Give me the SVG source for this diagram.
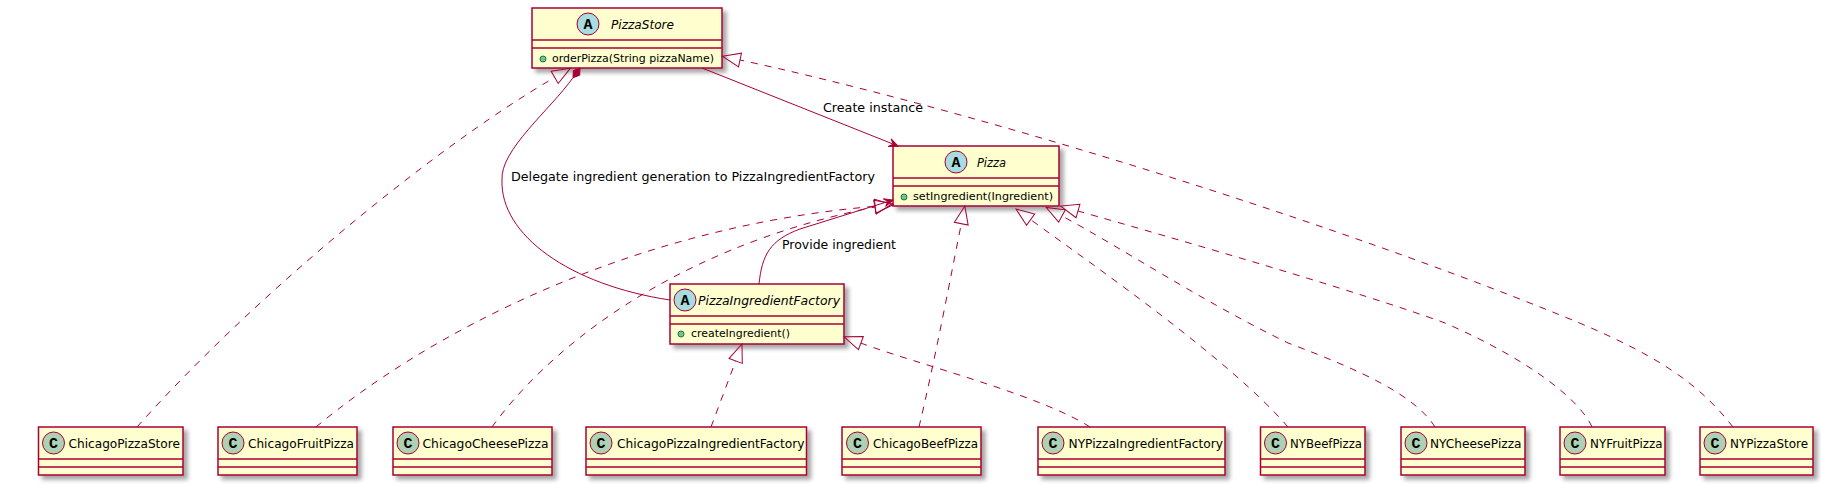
<svg xmlns="http://www.w3.org/2000/svg" width="1821" height="485" viewBox="0 0 1821 485">
<defs>
<filter id="sh" x="-10%" y="-10%" width="130%" height="160%">
<feGaussianBlur in="SourceAlpha" stdDeviation="2"/>
<feOffset dx="4" dy="4" result="o"/>
<feComponentTransfer><feFuncA type="linear" slope="0.35"/></feComponentTransfer>
<feMerge><feMergeNode/><feMergeNode in="SourceGraphic"/></feMerge>
</filter>
<marker id="ext" markerUnits="userSpaceOnUse" viewBox="-2 -9 22 18" refX="0" refY="0" markerWidth="22" markerHeight="18" orient="auto" overflow="visible">
<path d="M0,-7 L18,0 L0,7 Z" fill="none" stroke="#A80036" stroke-width="1"/>
</marker>
<marker id="arr" markerUnits="userSpaceOnUse" viewBox="-11 -6 12 12" refX="0" refY="0" markerWidth="12" markerHeight="12" orient="auto" overflow="visible">
<path d="M-9,-4 L0,0 L-9,4 L-5,0 Z" fill="#A80036" stroke="#A80036" stroke-width="1"/>
</marker>
<style>
.box{fill:#FEFECE;stroke:#A80036;stroke-width:1.5;filter:url(#sh)}
.dv{stroke:#A80036;stroke-width:1.5}
.ia{fill:#A9DCDF;stroke:#A80036;stroke-width:1}
.ic{fill:#ADD1B2;stroke:#A80036;stroke-width:1}
.il{font-family:"Liberation Mono","DejaVu Sans Mono",monospace;font-weight:bold;font-size:15px;text-anchor:middle;fill:#000}
.nm{font-family:"DejaVu Sans",sans-serif;font-size:13px;fill:#000}
.ab{font-style:italic}
.mb{font-family:"DejaVu Sans",sans-serif;font-size:11px;fill:#000}
.pub{fill:#84BE84;stroke:#038048;stroke-width:1}
.lb{font-family:"DejaVu Sans",sans-serif;font-size:13px;fill:#000}
.dash{fill:none;stroke:#A80036;stroke-width:1;stroke-dasharray:7,7}
.sol{fill:none;stroke:#A80036;stroke-width:1}
</style>
</defs>

<g id="PizzaStore">
<rect class="box" x="532" y="8" width="190" height="60"/>
<line class="dv" x1="532" y1="40" x2="722" y2="40"/>
<line class="dv" x1="532" y1="48" x2="722" y2="48"/>
<circle class="ia" cx="588" cy="24" r="11"/>
<text class="il" x="588" y="29">A</text>
<text class="nm ab" x="611" y="28.5" textLength="63" lengthAdjust="spacingAndGlyphs">PizzaStore</text>
<circle class="pub" cx="543" cy="59" r="3"/>
<text class="mb" x="552" y="62" textLength="162" lengthAdjust="spacingAndGlyphs">orderPizza(String pizzaName)</text>
</g>

<g id="Pizza">
<rect class="box" x="893" y="146" width="166" height="60"/>
<line class="dv" x1="893" y1="178" x2="1059" y2="178"/>
<line class="dv" x1="893" y1="186" x2="1059" y2="186"/>
<circle class="ia" cx="956" cy="162" r="11"/>
<text class="il" x="956" y="167">A</text>
<text class="nm ab" x="977" y="166.5" textLength="29" lengthAdjust="spacingAndGlyphs">Pizza</text>
<circle class="pub" cx="904" cy="197" r="3"/>
<text class="mb" x="913" y="200" textLength="140" lengthAdjust="spacingAndGlyphs">setIngredient(Ingredient)</text>
</g>

<g id="PizzaIngredientFactory">
<rect class="box" x="670" y="284" width="174" height="60"/>
<line class="dv" x1="670" y1="316" x2="844" y2="316"/>
<line class="dv" x1="670" y1="324" x2="844" y2="324"/>
<circle class="ia" cx="685" cy="300" r="11"/>
<text class="il" x="685" y="305">A</text>
<text class="nm ab" x="698" y="304.5" textLength="142" lengthAdjust="spacingAndGlyphs">PizzaIngredientFactory</text>
<circle class="pub" cx="681" cy="334" r="3"/>
<text class="mb" x="691" y="337" textLength="99" lengthAdjust="spacingAndGlyphs">createIngredient()</text>
</g>

<g id="ChicagoPizzaStore">
<rect class="box" x="38.5" y="427" width="144.5" height="48"/>
<line class="dv" x1="38.5" y1="459" x2="183" y2="459"/>
<line class="dv" x1="38.5" y1="467" x2="183" y2="467"/>
<circle class="ic" cx="53.5" cy="443" r="11"/>
<text class="il" x="53.5" y="448">C</text>
<text class="nm" x="68.5" y="448" textLength="111.5" lengthAdjust="spacingAndGlyphs">ChicagoPizzaStore</text>
</g>

<g id="ChicagoFruitPizza">
<rect class="box" x="218" y="427" width="139" height="48"/>
<line class="dv" x1="218" y1="459" x2="357" y2="459"/>
<line class="dv" x1="218" y1="467" x2="357" y2="467"/>
<circle class="ic" cx="233" cy="443" r="11"/>
<text class="il" x="233" y="448">C</text>
<text class="nm" x="248" y="448" textLength="106" lengthAdjust="spacingAndGlyphs">ChicagoFruitPizza</text>
</g>

<g id="ChicagoCheesePizza">
<rect class="box" x="393" y="427" width="159" height="48"/>
<line class="dv" x1="393" y1="459" x2="552" y2="459"/>
<line class="dv" x1="393" y1="467" x2="552" y2="467"/>
<circle class="ic" cx="408" cy="443" r="11"/>
<text class="il" x="408" y="448">C</text>
<text class="nm" x="422.5" y="448" textLength="126" lengthAdjust="spacingAndGlyphs">ChicagoCheesePizza</text>
</g>

<g id="ChicagoPizzaIngredientFactory">
<rect class="box" x="586" y="427" width="220.5" height="48"/>
<line class="dv" x1="586" y1="459" x2="806.5" y2="459"/>
<line class="dv" x1="586" y1="467" x2="806.5" y2="467"/>
<circle class="ic" cx="601" cy="443" r="11"/>
<text class="il" x="601" y="448">C</text>
<text class="nm" x="617" y="448" textLength="187.5" lengthAdjust="spacingAndGlyphs">ChicagoPizzaIngredientFactory</text>
</g>

<g id="ChicagoBeefPizza">
<rect class="box" x="842" y="427" width="139" height="48"/>
<line class="dv" x1="842" y1="459" x2="981" y2="459"/>
<line class="dv" x1="842" y1="467" x2="981" y2="467"/>
<circle class="ic" cx="857.5" cy="443" r="11"/>
<text class="il" x="857.5" y="448">C</text>
<text class="nm" x="873" y="448" textLength="105" lengthAdjust="spacingAndGlyphs">ChicagoBeefPizza</text>
</g>

<g id="NYPizzaIngredientFactory">
<rect class="box" x="1038" y="427" width="187" height="48"/>
<line class="dv" x1="1038" y1="459" x2="1225" y2="459"/>
<line class="dv" x1="1038" y1="467" x2="1225" y2="467"/>
<circle class="ic" cx="1053" cy="443" r="11"/>
<text class="il" x="1053" y="448">C</text>
<text class="nm" x="1068.5" y="448" textLength="154.5" lengthAdjust="spacingAndGlyphs">NYPizzaIngredientFactory</text>
</g>

<g id="NYBeefPizza">
<rect class="box" x="1260.5" y="427" width="104.5" height="48"/>
<line class="dv" x1="1260.5" y1="459" x2="1365" y2="459"/>
<line class="dv" x1="1260.5" y1="467" x2="1365" y2="467"/>
<circle class="ic" cx="1275.5" cy="443" r="11"/>
<text class="il" x="1275.5" y="448">C</text>
<text class="nm" x="1290" y="448" textLength="72" lengthAdjust="spacingAndGlyphs">NYBeefPizza</text>
</g>

<g id="NYCheesePizza">
<rect class="box" x="1401" y="427" width="124" height="48"/>
<line class="dv" x1="1401" y1="459" x2="1525" y2="459"/>
<line class="dv" x1="1401" y1="467" x2="1525" y2="467"/>
<circle class="ic" cx="1416" cy="443" r="11"/>
<text class="il" x="1416" y="448">C</text>
<text class="nm" x="1430" y="448" textLength="91.5" lengthAdjust="spacingAndGlyphs">NYCheesePizza</text>
</g>

<g id="NYFruitPizza">
<rect class="box" x="1560" y="427" width="105" height="48"/>
<line class="dv" x1="1560" y1="459" x2="1665" y2="459"/>
<line class="dv" x1="1560" y1="467" x2="1665" y2="467"/>
<circle class="ic" cx="1575" cy="443" r="11"/>
<text class="il" x="1575" y="448">C</text>
<text class="nm" x="1590" y="448" textLength="72.5" lengthAdjust="spacingAndGlyphs">NYFruitPizza</text>
</g>

<g id="NYPizzaStore">
<rect class="box" x="1700" y="427" width="113" height="48"/>
<line class="dv" x1="1700" y1="459" x2="1813" y2="459"/>
<line class="dv" x1="1700" y1="467" x2="1813" y2="467"/>
<circle class="ic" cx="1715" cy="443" r="11"/>
<text class="il" x="1715" y="448">C</text>
<text class="nm" x="1730" y="448" textLength="78" lengthAdjust="spacingAndGlyphs">NYPizzaStore</text>
</g>

<g id="connectors">
<path class="dash" marker-end="url(#ext)" d="M137,427 C250,300 430,150 554.7,77.4"/>
<path class="dash" marker-end="url(#ext)" d="M1733,427 C1700,385 1660,355 1560,315 C1300,210 950,105 740,60"/>
<path class="sol" marker-end="url(#arr)" d="M702,68 L898,146"/>
<text class="lb" x="823" y="112" textLength="100" lengthAdjust="spacingAndGlyphs">Create instance</text>
<path class="sol" d="M573,77.7 C550,110 500,150 502,180 C500,235 570,285 670,300"/>
<polygon points="580,68 579.7,75.2 573,77.7 573.3,70.5" fill="#A80036" stroke="#A80036" stroke-width="1"/>
<text class="lb" x="511" y="181" textLength="364" lengthAdjust="spacingAndGlyphs">Delegate ingredient generation to PizzaIngredientFactory</text>
<path class="sol" marker-end="url(#arr)" d="M759,284 C762,255 770,240 800,229 L893,200"/>
<text class="lb" x="782" y="249" textLength="114" lengthAdjust="spacingAndGlyphs">Provide ingredient</text>
<path class="dash" marker-end="url(#ext)" d="M316,427 C420,340 620,228 875.1,206.3"/>
<path class="dash" marker-end="url(#ext)" d="M492,427 C540,360 660,250 875,207"/>
<path class="dash" marker-end="url(#ext)" d="M919,427 C935,360 952,270 961.3,223.7"/>
<path class="dash" marker-end="url(#ext)" d="M1288,427 C1230,360 1100,270 1030.6,219.6"/>
<path class="dash" marker-end="url(#ext)" d="M1435,427 C1415,395 1360,370 1288,343 C1200,300 1125,250 1062,216"/>
<path class="dash" marker-end="url(#ext)" d="M1592,427 C1580,400 1530,360 1445,323 C1360,292 1180,240 1078,211"/>
<path class="dash" marker-end="url(#ext)" d="M711,427 L735.7,360.9"/>
<path class="dash" marker-end="url(#ext)" d="M1090,427 C1040,395 920,365 860.9,343.1"/>
</g>
</svg>
